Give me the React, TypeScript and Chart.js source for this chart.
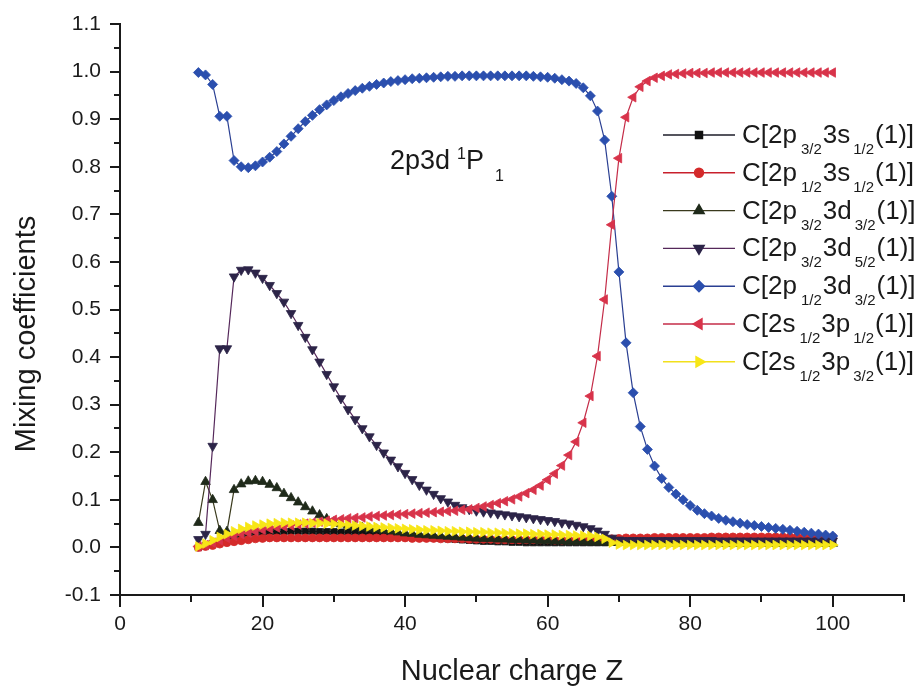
import React, { useEffect, useRef } from 'react';
import { Chart, registerables } from 'chart.js';
import { drawPoint } from 'chart.js/helpers';

Chart.register(...registerables);

// ---------------- data ----------------
const Z = [
  11, 12, 13, 14, 15, 16, 17, 18, 19, 20,
  21, 22, 23, 24, 25, 26, 27, 28, 29, 30,
  31, 32, 33, 34, 35, 36, 37, 38, 39, 40,
  41, 42, 43, 44, 45, 46, 47, 48, 49, 50,
  51, 52, 53, 54, 55, 56, 57, 58, 59, 60,
  61, 62, 63, 64, 65, 66, 67, 68, 69, 70,
  71, 72, 73, 74, 75, 76, 77, 78, 79, 80,
  81, 82, 83, 84, 85, 86, 87, 88, 89, 90,
  91, 92, 93, 94, 95, 96, 97, 98, 99, 100,
];

const C_2p32_3s12 = [
  0.000, 0.004, 0.008, 0.013, 0.018, 0.023, 0.027, 0.030, 0.031, 0.032,
  0.033, 0.033, 0.033, 0.034, 0.034, 0.034, 0.034, 0.033, 0.033, 0.033,
  0.032, 0.032, 0.031, 0.030, 0.029, 0.028, 0.027, 0.026, 0.025, 0.024,
  0.023, 0.022, 0.021, 0.020, 0.019, 0.018, 0.017, 0.016, 0.015, 0.014,
  0.013, 0.013, 0.012, 0.012, 0.011, 0.011, 0.010, 0.010, 0.010, 0.010,
  0.010, 0.010, 0.010, 0.010, 0.010, 0.010, 0.010, 0.010, 0.011, 0.012,
  0.012, 0.012, 0.012, 0.012, 0.012, 0.012, 0.012, 0.012, 0.012, 0.012,
  0.012, 0.012, 0.012, 0.012, 0.012, 0.012, 0.012, 0.012, 0.012, 0.012,
  0.012, 0.012, 0.012, 0.012, 0.012, 0.012, 0.012, 0.012, 0.012, 0.012,
];

const C_2p12_3s12 = [
  0.000, 0.002, 0.004, 0.007, 0.010, 0.012, 0.014, 0.016, 0.018, 0.019,
  0.020, 0.020, 0.020, 0.020, 0.020, 0.020, 0.020, 0.020, 0.020, 0.020,
  0.020, 0.020, 0.020, 0.020, 0.020, 0.020, 0.020, 0.020, 0.020, 0.020,
  0.019, 0.019, 0.019, 0.019, 0.018, 0.018, 0.018, 0.018, 0.017, 0.017,
  0.017, 0.017, 0.016, 0.016, 0.016, 0.016, 0.016, 0.016, 0.016, 0.016,
  0.015, 0.015, 0.015, 0.015, 0.015, 0.015, 0.015, 0.016, 0.018, 0.019,
  0.020, 0.020, 0.020, 0.020, 0.021, 0.021, 0.021, 0.021, 0.021, 0.021,
  0.021, 0.021, 0.022, 0.022, 0.022, 0.022, 0.022, 0.022, 0.022, 0.022,
  0.022, 0.022, 0.022, 0.022, 0.022, 0.022, 0.022, 0.022, 0.022, 0.022,
];

const C_2p32_3d32 = [
  0.052, 0.138, 0.100, 0.035, 0.033, 0.121, 0.133, 0.139, 0.140, 0.138,
  0.132, 0.125, 0.113, 0.104, 0.095, 0.085, 0.076, 0.068, 0.060, 0.053,
  0.049, 0.046, 0.044, 0.042, 0.040, 0.038, 0.036, 0.034, 0.032, 0.030,
  0.029, 0.027, 0.026, 0.025, 0.024, 0.023, 0.022, 0.021, 0.020, 0.019,
  0.018, 0.018, 0.017, 0.017, 0.016, 0.016, 0.015, 0.015, 0.014, 0.014,
  0.013, 0.013, 0.012, 0.012, 0.012, 0.011, 0.011, 0.011, 0.010, 0.010,
  0.010, 0.010, 0.010, 0.009, 0.009, 0.009, 0.009, 0.009, 0.009, 0.009,
  0.009, 0.009, 0.009, 0.008, 0.008, 0.008, 0.008, 0.008, 0.008, 0.008,
  0.008, 0.008, 0.008, 0.008, 0.008, 0.008, 0.008, 0.008, 0.008, 0.008,
];

const C_2p32_3d52 = [
  0.017, 0.028, 0.213, 0.418, 0.418, 0.569, 0.583, 0.584, 0.577, 0.566,
  0.551, 0.534, 0.516, 0.492, 0.467, 0.442, 0.416, 0.390, 0.364, 0.338,
  0.313, 0.290, 0.269, 0.250, 0.233, 0.215, 0.199, 0.184, 0.170, 0.156,
  0.143, 0.131, 0.121, 0.112, 0.103, 0.096, 0.089, 0.084, 0.080, 0.077,
  0.075, 0.073, 0.071, 0.069, 0.067, 0.065, 0.063, 0.061, 0.059, 0.057,
  0.055, 0.052, 0.050, 0.047, 0.044, 0.040, 0.035, 0.028, 0.020, 0.016,
  0.015, 0.015, 0.015, 0.015, 0.015, 0.015, 0.015, 0.015, 0.015, 0.015,
  0.015, 0.015, 0.015, 0.014, 0.014, 0.014, 0.014, 0.014, 0.014, 0.014,
  0.014, 0.014, 0.014, 0.014, 0.014, 0.014, 0.014, 0.014, 0.014, 0.014,
];

const C_2p12_3d32 = [
  0.998, 0.993, 0.973, 0.906, 0.906, 0.813, 0.800, 0.798, 0.802, 0.810,
  0.820, 0.832, 0.848, 0.864, 0.880, 0.895, 0.908, 0.920, 0.930, 0.939,
  0.947, 0.954, 0.960, 0.965, 0.969, 0.973, 0.976, 0.979, 0.981, 0.983,
  0.985, 0.986, 0.987, 0.988, 0.989, 0.990, 0.990, 0.991, 0.991, 0.991,
  0.991, 0.991, 0.991, 0.991, 0.991, 0.991, 0.991, 0.990, 0.989, 0.988,
  0.986, 0.983, 0.980, 0.975, 0.966, 0.949, 0.917, 0.856, 0.738, 0.579,
  0.430, 0.325, 0.254, 0.206, 0.171, 0.145, 0.126, 0.112, 0.100, 0.088,
  0.078, 0.071, 0.066, 0.061, 0.057, 0.054, 0.051, 0.048, 0.046, 0.044,
  0.042, 0.040, 0.038, 0.036, 0.034, 0.032, 0.030, 0.028, 0.026, 0.024,
];

const C_2s12_3p12 = [
  0.002, 0.005, 0.010, 0.015, 0.020, 0.024, 0.028, 0.031, 0.034, 0.037,
  0.040, 0.042, 0.044, 0.046, 0.048, 0.050, 0.052, 0.054, 0.056, 0.058,
  0.059, 0.061, 0.062, 0.063, 0.065, 0.066, 0.067, 0.068, 0.069, 0.070,
  0.071, 0.072, 0.073, 0.074, 0.075, 0.076, 0.077, 0.079, 0.080, 0.083,
  0.086, 0.089, 0.093, 0.097, 0.101, 0.107, 0.114, 0.121, 0.130, 0.142,
  0.155, 0.172, 0.194, 0.222, 0.262, 0.318, 0.402, 0.521, 0.678, 0.818,
  0.904, 0.946, 0.968, 0.980, 0.987, 0.991, 0.994, 0.995, 0.996, 0.997,
  0.997, 0.997, 0.998, 0.998, 0.998, 0.998, 0.998, 0.998, 0.998, 0.998,
  0.998, 0.998, 0.998, 0.998, 0.998, 0.998, 0.998, 0.998, 0.998, 0.998,
];

const C_2s12_3p32 = [
  0.002, 0.008, 0.015, 0.022, 0.028, 0.034, 0.039, 0.043, 0.046, 0.048,
  0.050, 0.051, 0.052, 0.052, 0.052, 0.052, 0.051, 0.051, 0.050, 0.049,
  0.048, 0.047, 0.046, 0.045, 0.044, 0.043, 0.042, 0.041, 0.040, 0.039,
  0.038, 0.037, 0.036, 0.036, 0.035, 0.034, 0.034, 0.033, 0.033, 0.032,
  0.032, 0.031, 0.031, 0.030, 0.030, 0.029, 0.029, 0.028, 0.028, 0.027,
  0.027, 0.026, 0.026, 0.025, 0.025, 0.024, 0.022, 0.018, 0.010, 0.006,
  0.005, 0.005, 0.005, 0.005, 0.005, 0.005, 0.005, 0.005, 0.005, 0.005,
  0.005, 0.005, 0.005, 0.005, 0.005, 0.005, 0.005, 0.005, 0.005, 0.005,
  0.005, 0.005, 0.005, 0.005, 0.005, 0.005, 0.005, 0.005, 0.005, 0.005,
];

// legend label pieces: [orbital1, sub1, orbital2, sub2]
const LABELS: string[][] = [
  ['2p', '3/2', '3s', '1/2'],
  ['2p', '1/2', '3s', '1/2'],
  ['2p', '3/2', '3d', '3/2'],
  ['2p', '3/2', '3d', '5/2'],
  ['2p', '1/2', '3d', '3/2'],
  ['2s', '1/2', '3p', '1/2'],
  ['2s', '1/2', '3p', '3/2'],
];

const SERIES = [C_2p32_3s12, C_2p12_3s12, C_2p32_3d32, C_2p32_3d52, C_2p12_3d32, C_2s12_3p12, C_2s12_3p32];

const LINE_COLORS = ['#1c1c28', '#c8202c', '#3a3a1c', '#55285a', '#2a3f92', '#c42c48', '#f2e01c'];
const POINT_COLORS = ['#111111', '#d42a2a', '#1f2a1a', '#2c2448', '#2b4fae', '#d8334a', '#f7e617'];
const POINT_STYLES = ['rect', 'circle', 'triangle', 'triangle', 'rectRot', 'triangle', 'triangle'];
const POINT_ROTATIONS = [0, 0, 0, 180, 0, 270, 90];
const POINT_RADII = [4.5, 4, 5.5, 5.5, 5, 5.5, 5.5];

const X_MINOR = [10, 30, 50, 70, 90, 110];
const Y_MINOR = [-0.05, 0.05, 0.15, 0.25, 0.35, 0.45, 0.55, 0.65, 0.75, 0.85, 0.95, 1.05];

const FONT = '"Liberation Sans", Arial, Helvetica, sans-serif';
const INK = '#1a1a1a';

// ---------------- plugins ----------------
const decorations = {
  id: 'decorations',
  afterDraw(chart: any) {
    const ctx: CanvasRenderingContext2D = chart.ctx;
    const xs = chart.scales.x;
    const ys = chart.scales.y;
    ctx.save();
    // minor ticks
    ctx.strokeStyle = INK;
    ctx.lineWidth = 2;
    ctx.beginPath();
    for (const v of X_MINOR) {
      const px = Math.round(xs.getPixelForValue(v));
      ctx.moveTo(px, xs.top);
      ctx.lineTo(px, xs.top + 7);
    }
    for (const v of Y_MINOR) {
      const py = Math.round(ys.getPixelForValue(v));
      ctx.moveTo(ys.right, py);
      ctx.lineTo(ys.right - 6, py);
    }
    ctx.stroke();

    // y axis title
    ctx.fillStyle = INK;
    ctx.save();
    ctx.translate(35, 334);
    ctx.rotate(-Math.PI / 2);
    ctx.font = `29px ${FONT}`;
    ctx.textAlign = 'center';
    ctx.textBaseline = 'alphabetic';
    ctx.fillText('Mixing coefficients', 0, 0);
    ctx.restore();

    // annotation 2p3d ^1P_1
    ctx.textAlign = 'left';
    ctx.textBaseline = 'alphabetic';
    ctx.font = `27px ${FONT}`;
    ctx.fillText('2p3d', 390, 169);
    ctx.font = `16px ${FONT}`;
    ctx.fillText('1', 457, 159);
    ctx.font = `27px ${FONT}`;
    ctx.fillText('P', 466, 169);
    ctx.font = `16px ${FONT}`;
    ctx.fillText('1', 495, 181);

    // legend
    const main = `26px ${FONT}`;
    const sub = `15px ${FONT}`;
    for (let i = 0; i < LABELS.length; i++) {
      const ly = 135 + 37.8 * i;
      ctx.strokeStyle = LINE_COLORS[i];
      ctx.lineWidth = 1.4;
      ctx.beginPath();
      ctx.moveTo(663, ly);
      ctx.lineTo(735, ly);
      ctx.stroke();
      ctx.fillStyle = POINT_COLORS[i];
      ctx.strokeStyle = POINT_COLORS[i];
      drawPoint(ctx, { pointStyle: POINT_STYLES[i], rotation: POINT_ROTATIONS[i], radius: POINT_RADII[i] + 0.5, borderWidth: 1 } as any, 699, ly);

      const [o1, s1, o2, s2] = LABELS[i];
      const base = ly + 8;
      let x = 742;
      ctx.fillStyle = INK;
      const put = (t: string, f: string, dy: number, gapAfter: number) => {
        ctx.font = f;
        ctx.fillText(t, x, base + dy);
        x += ctx.measureText(t).width + gapAfter;
      };
      put('C[' + o1, main, 0, 4);
      put(s1, sub, 11, 1);
      put(o2, main, 0, 3);
      put(s2, sub, 11, 1);
      put('(1)]', main, 0, 0);
    }
    ctx.restore();
  },
};

export default function App() {
  const ref = useRef<HTMLCanvasElement>(null);

  useEffect(() => {
    const datasets = SERIES.map((arr, i) => ({
      label: 'C[' + LABELS[i][0] + LABELS[i][1] + LABELS[i][2] + LABELS[i][3] + '(1)]',
      data: Z.map((z, k) => ({ x: z, y: arr[k] })),
      borderColor: LINE_COLORS[i],
      borderWidth: 1.2,
      backgroundColor: POINT_COLORS[i],
      pointBackgroundColor: POINT_COLORS[i],
      pointBorderColor: POINT_COLORS[i],
      pointBorderWidth: 0.8,
      pointStyle: POINT_STYLES[i],
      pointRotation: POINT_ROTATIONS[i],
      pointRadius: POINT_RADII[i],
      tension: 0,
      fill: false,
      order: 7 - i,
    }));

    const chart = new Chart(ref.current as HTMLCanvasElement, {
      type: 'line',
      data: { datasets } as any,
      options: {
        responsive: false,
        animation: false,
        devicePixelRatio: 1,
        layout: { padding: { left: 0, top: 24, right: 19, bottom: 0 } },
        plugins: { legend: { display: false }, tooltip: { enabled: false } },
        scales: {
          x: {
            type: 'linear',
            min: 0,
            max: 110,
            afterFit: (s: any) => { s.height = 93; },
            afterBuildTicks: (s: any) => { s.ticks = s.ticks.filter((t: any) => t.value <= 100); },
            ticks: {
              stepSize: 20,
              color: INK,
              font: { family: FONT, size: 21 },
              padding: 5,
              maxRotation: 0,
              autoSkip: false,
            },
            grid: { display: true, drawOnChartArea: false, drawTicks: true, tickLength: 12, color: INK, lineWidth: 2 },
            border: { display: true, color: INK, width: 2 },
            title: {
              display: true,
              text: 'Nuclear charge Z',
              color: INK,
              font: { family: FONT, size: 29, lineHeight: 1 },
              padding: { top: 0, bottom: 2 },
            },
          },
          y: {
            type: 'linear',
            min: -0.1,
            max: 1.1,
            afterFit: (s: any) => { s.width = 120; },
            ticks: {
              stepSize: 0.1,
              color: INK,
              font: { family: FONT, size: 21 },
              padding: 9,
              callback: (v: any) => Number(v).toFixed(1),
            },
            grid: { display: true, drawOnChartArea: false, drawTicks: true, tickLength: 10, color: INK, lineWidth: 2 },
            border: { display: true, color: INK, width: 2 },
            title: { display: false },
          },
        },
      },
      plugins: [decorations],
    } as any);

    return () => chart.destroy();
  }, []);

  return (
    <div style={{ position: 'absolute', left: 0, top: 0, width: 923, height: 688, background: '#ffffff' }}>
      <canvas ref={ref} width={923} height={688} style={{ display: 'block' }} />
    </div>
  );
}
